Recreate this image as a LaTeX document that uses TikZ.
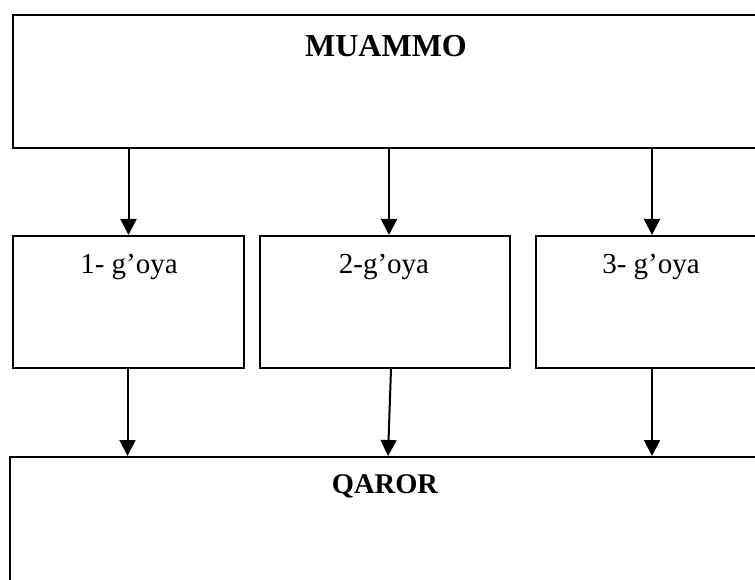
\documentclass[tikz,border=0pt]{standalone}
\usepackage{fontspec}
\setmainfont{Liberation Serif}
\usetikzlibrary{arrows.meta,calc}
\begin{document}
\begin{tikzpicture}[x=1pt,y=-1pt,
  box/.style={draw,line width=2pt,inner sep=0pt,anchor=north west},
  arr/.style={line width=2pt,-{Triangle[length=16pt,width=16pt]}},
  lbl/.style={font=\fontsize{29}{34}\selectfont,anchor=base,inner sep=0pt},
  blbl/.style={font=\fontsize{32}{36}\selectfont\bfseries,anchor=base,inner sep=0pt}]
\useasboundingbox (0,0) rectangle (755,580);
\clip (0,0) rectangle (755,580);
\node[box,minimum width=758pt,minimum height=133pt] (top) at (12,14) {};
\node[box,minimum width=231pt,minimum height=132pt] (m1) at (12,235) {};
\node[box,minimum width=250pt,minimum height=132pt] (m2) at (259,235) {};
\node[box,minimum width=232pt,minimum height=132pt] (m3) at (535,235) {};
\node[box,minimum width=760pt,minimum height=200pt] (bot) at (9,456) {};
\node[blbl] (tt) at (386,57) {MUAMMO};
\node[lbl] (t1) at (129,273) {1- g’oya};
\node[lbl] (t2) at (384,273) {2-g’oya};
\node[lbl] (t3) at (651,273) {3- g’oya};
\node[blbl,font=\fontsize{28.5}{34}\selectfont\bfseries] (tb) at (385,493) {QAROR};
\draw[arr] (top.south -| m1.north) -- (m1.north);
\draw[arr] ($(top.south -| m2.north)+(4,0)$) -- ($(m2.north)+(4,0)$);
\draw[arr] (top.south -| m3.north) -- (m3.north);
\draw[arr] ($(m1.south)+(-1,0)$) -- ($(m1.south |- bot.north)+(-1,0)$);
\draw[arr] ($(m2.south)+(6,0)$) -- ($(m2.south |- bot.north)+(3,0)$);
\draw[arr] (m3.south) -- (m3.south |- bot.north);
\end{tikzpicture}
\end{document}
